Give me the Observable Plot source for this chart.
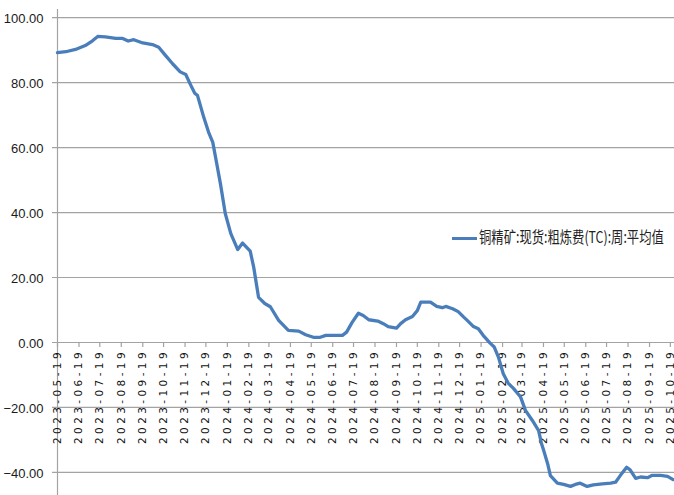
<!DOCTYPE html>
<html><head><meta charset="utf-8">
<script src="https://cdn.jsdelivr.net/npm/d3@7"></script>
<script src="https://cdn.jsdelivr.net/npm/@observablehq/plot@0.6"></script>
<style>
body{margin:0;background:#fff;}
#wrap{position:relative;width:674px;height:495px;overflow:hidden;background:#fff;}
#legend{position:absolute;left:452px;top:225px;width:222px;height:22px;}
#legend .sw{position:absolute;left:0;top:12px;width:25px;height:0;border-top:3.5px solid #4A7EBB;}
#legend .lt{position:absolute;left:27px;top:0;font-family:"Noto Sans CJK SC",sans-serif;font-size:16px;line-height:22px;color:#222;white-space:nowrap;transform:scaleX(0.77);transform-origin:left center;}
</style></head>
<body><div id="wrap"></div>
<script>
const seriesName = "铜精矿:现货:粗炼费(TC):周:平均值";
const dates = [
"2023-05-19","2023-05-31","2023-06-14","2023-06-28","2023-07-08","2023-07-16","2023-07-27","2023-08-11","2023-08-21","2023-08-29",
"2023-09-06","2023-09-19","2023-10-03","2023-10-12","2023-10-22","2023-11-01","2023-11-12","2023-11-20","2023-11-27","2023-12-03",
"2023-12-07","2023-12-16","2023-12-23","2023-12-29","2024-01-02","2024-01-09","2024-01-16","2024-01-24","2024-02-03","2024-02-10",
"2024-02-21","2024-02-26","2024-03-04","2024-03-13","2024-03-21","2024-04-02","2024-04-16","2024-05-01","2024-05-11","2024-05-22",
"2024-06-01","2024-06-09","2024-07-03","2024-07-09","2024-07-17","2024-07-26","2024-08-02","2024-08-10","2024-08-23","2024-08-31",
"2024-09-07","2024-09-19","2024-09-25","2024-10-02","2024-10-12","2024-10-19","2024-10-24","2024-11-07","2024-11-16","2024-11-24",
"2024-11-29","2024-12-09","2024-12-17","2024-12-25","2024-12-30","2025-01-08","2025-01-15","2025-01-22","2025-02-01","2025-02-07",
"2025-02-13","2025-02-20","2025-02-27","2025-03-07","2025-03-17","2025-03-24","2025-04-03","2025-04-12","2025-04-16","2025-04-19",
"2025-04-25","2025-04-29","2025-05-09","2025-05-18","2025-05-28","2025-06-04","2025-06-11","2025-06-21","2025-06-30","2025-07-13",
"2025-07-25","2025-08-01","2025-08-08","2025-08-17","2025-08-22","2025-08-30","2025-09-06","2025-09-16","2025-09-23","2025-10-05",
"2025-10-15","2025-10-23"
];
const values = [
89.2,89.5,90.2,91.4,92.8,94.2,94.1,93.6,93.6,92.8,
93.2,92.2,91.7,90.9,88.3,85.8,83.3,82.5,79.3,76.7,
76.0,69.3,64.7,61.6,57.0,48.9,39.7,33.5,28.6,30.6,
28.1,23.2,13.9,12.0,11.0,6.8,3.7,3.5,2.4,1.6,
1.6,2.2,2.2,3.2,6.2,9.0,8.3,7.0,6.6,5.8,
4.9,4.4,5.8,7.0,8.0,9.8,12.4,12.4,11.1,10.7,
11.1,10.4,9.5,7.8,6.8,4.9,4.2,2.2,-0.2,-1.4,
-4.5,-9.6,-12.5,-14.2,-16.8,-20.9,-24.0,-27.1,-31.0,-33.0,
-37.3,-41.0,-43.3,-43.7,-44.3,-43.7,-43.3,-44.3,-43.8,-43.5,
-43.3,-43.0,-40.9,-38.4,-39.2,-41.8,-41.4,-41.6,-40.9,-40.9,
-41.2,-42.2
];
const tickDates = [
"2023-05-19","2023-06-19","2023-07-19","2023-08-19","2023-09-19","2023-10-19","2023-11-19","2023-12-19",
"2024-01-19","2024-02-19","2024-03-19","2024-04-19","2024-05-19","2024-06-19","2024-07-19","2024-08-19",
"2024-09-19","2024-10-19","2024-11-19","2024-12-19","2025-01-19","2025-02-19","2025-03-19","2025-04-19",
"2025-05-19","2025-06-19","2025-07-19","2025-08-19","2025-09-19","2025-10-19"
];
const yTicks = [-40,-20,0,20,40,60,80,100];

const data = dates.map((d,i)=>({date:new Date(d), value:values[i]}));
const xStart = new Date("2023-05-19");
const xEnd = new Date("2025-10-25");
const gridColor = "#a3a3a3";
const fmt = d3.format(".2f");

const chart = Plot.plot({
  width:674, height:495,
  marginLeft:57, marginRight:0, marginTop:9, marginBottom:0,
  style:{background:"#fff", fontFamily:"'Liberation Sans', Arial, sans-serif", fontSize:"13px", color:"#222"},
  x:{type:"utc", domain:[xStart, xEnd], axis:null},
  y:{domain:[-47.1, 102.5], axis:null},
  marks:[
    Plot.ruleY(yTicks, {stroke:gridColor, strokeWidth:1.2, insetLeft:-5}),
    Plot.ruleX([xStart], {stroke:gridColor, strokeWidth:1.2}),
    Plot.ruleX(tickDates, {x:d=>new Date(d), y1:0, y2:-1.55, stroke:gridColor, strokeWidth:1.2}),
    Plot.text(yTicks, {x:()=>xStart, y:d=>d, text:d=>fmt(d), textAnchor:"end", dx:-14, dy:1, fill:"#1a1a1a", fontSize:13, fontFamily:"'Liberation Sans', Arial, sans-serif"}),
    Plot.text(tickDates, {x:d=>new Date(d), y:()=>0, text:d=>d, rotate:-90, textAnchor:"end", dy:6.5, fill:"#111", fontSize:10.5, fontFamily:"'DejaVu Sans', sans-serif"}),
    Plot.line(data, {x:"date", y:"value", stroke:"#4A7EBB", strokeWidth:3.3, strokeLinejoin:"round", strokeLinecap:"round"})
  ]
});
d3.select(chart).selectAll("text").filter(function(){return /^\d{4}-\d{2}-\d{2}$/.test(this.textContent);}).style("letter-spacing","3.4px");

const wrap = document.getElementById("wrap");
wrap.appendChild(chart);
const legend = document.createElement("div");
legend.id = "legend";
const sw = document.createElement("span"); sw.className = "sw";
const lt = document.createElement("span"); lt.className = "lt"; lt.textContent = seriesName;
legend.appendChild(sw); legend.appendChild(lt);
wrap.appendChild(legend);
</script>
</body></html>
